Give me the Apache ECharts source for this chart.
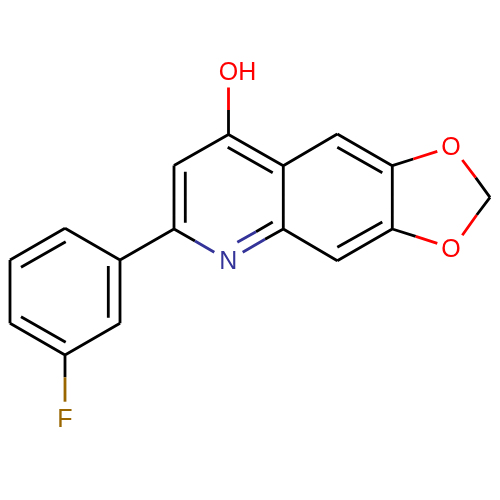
<!DOCTYPE html>
<html>
<head>
<meta charset="utf-8">
<style>html,body{margin:0;padding:0;background:#fff}#c{width:500px;height:500px}</style>
<script src="https://cdn.jsdelivr.net/npm/echarts@6/dist/echarts.min.js"></script>
</head>
<body>
<div id="c"></div>
<script>
// Bond pieces by colour, each [x1, y1, x2, y2] in picture units
const blackBonds = [
  [228.5,110,228.5,134.5],[228.5,134.5,174,165.5],[228.5,134.5,283.3,165.7],
  [227.7,147.3,272.7,172.7],[174,165.5,174,229],[185.3,171.7,185.3,222.7],
  [174,229,195,241],[283.3,165.7,283.3,229],[283.3,229,265,239.3],[272.7,222,256,231.7],
  [283.3,165.7,337.3,134],[337.3,134,392.3,165.7],[337.3,147.3,382.3,172.7],
  [392.3,165.7,392.3,229],[392.3,229,337.3,260.7],[382.3,222,337.3,247.3],
  [337.3,260.7,283.3,229],[392.3,165.7,413.3,159],[392.3,229,415.7,236.3],
  [490,197.3,475.7,177.7],[490,197.3,476.7,215],
  [174,229,120,260],[120,260,65,228.3],[65,228.3,10,260],[10,260,10,323.3],
  [10,323.3,65,355],[65,355,120,323.3],[120,323.3,120,260],
  [21,267.3,65.7,241.7],[108.3,266,108.3,317.7],[21,316.7,65.7,342.3],[65,355,65,377.3]
];
const redBonds = [
  [228.5,87.5,228.5,110],[413.3,159,437.3,151.3],[415.7,236.3,437.3,243.3],
  [475.7,177.7,462.3,160],[476.7,215,462.3,235.3]
];
const blueBonds = [
  [195,241,214.3,252.3],[265,239.3,242.7,252.3],[256,231.7,237.3,242.3]
];
const brownBonds = [[65,377.3,65,401.7]];
// Atom labels
const atomText = ['OH','N','O','O','F'];
const atomX = [237.5,228.3,451,451,65];
const atomY = [73.5,262,148,250,420];
const atomColor = ['#ff0000','#333399','#ff0000','#ff0000','#996600'];

function toLine(segs){
  const out=[];
  segs.forEach(s=>{out.push([s[0],s[1]],[s[2],s[3]],[null,null]);});
  return out;
}
function bondSeries(segs,color){
  return {type:'line',data:toLine(segs),connectNulls:false,showSymbol:false,symbol:'none',silent:true,
    lineStyle:{color:color,width:2.8,cap:'butt',join:'round',opacity:1},animation:false};
}
const chart=echarts.init(document.getElementById('c'),null,{renderer:'canvas'});
chart.setOption({
  animation:false,
  backgroundColor:'#ffffff',
  grid:{left:0,right:0,top:0,bottom:0},
  xAxis:{type:'value',min:0,max:500,show:false},
  yAxis:{type:'value',min:0,max:500,inverse:true,show:false},
  series:[
    bondSeries(blackBonds,'#000000'),
    bondSeries(redBonds,'#ff0000'),
    bondSeries(blueBonds,'#333399'),
    bondSeries(brownBonds,'#996600'),
    {type:'scatter',symbolSize:0,silent:true,animation:false,itemStyle:{opacity:1},
     data:atomText.map((t,i)=>({value:[atomX[i],atomY[i]],
       itemStyle:{opacity:1},
       label:{show:true,position:'inside',formatter:t,color:atomColor[i],opacity:1,
         fontFamily:'Liberation Sans',fontSize:25,align:'center',verticalAlign:'middle'}}))}
  ]
});
</script>
</body>
</html>
